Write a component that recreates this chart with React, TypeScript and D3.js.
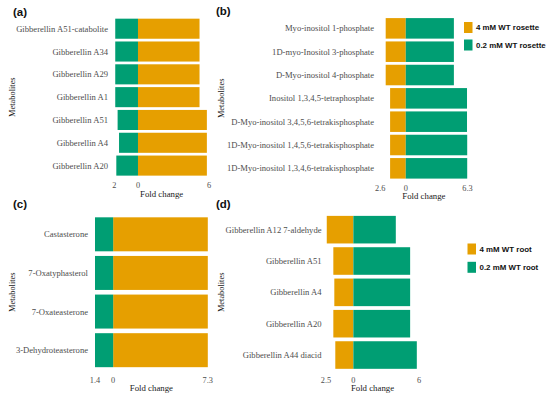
import * as d3 from "d3";
import { useEffect, useRef } from "react";

const ORANGE = "#E69F00";
const GREEN = "#009E73";

// (a) rosette gibberellins: orange = 4 mM (up), green = 0.2 mM (down)
const aNames = ["Gibberellin A51-catabolite", "Gibberellin A34", "Gibberellin A29", "Gibberellin A1", "Gibberellin A51", "Gibberellin A4", "Gibberellin A20"];
const aOrange = [5.2, 5.2, 5.2, 5.2, 5.82, 5.82, 5.82];
const aGreen = [-1.92, -1.92, -1.92, -1.92, -1.72, -1.6, -1.83];
const aTicks = [-2, 0, 6];

// (b) inositol phosphates: orange = 4 mM (down), green = 0.2 mM (up)
const bNames = ["Myo-inositol 1-phosphate", "1D-myo-Inositol 3-phosphate", "D-Myo-inositol 4-phosphate", "Inositol 1,3,4,5-tetraphosphate", "D-Myo-inositol 3,4,5,6-tetrakisphosphate", "1D-Myo-inositol 1,4,5,6-tetrakisphosphate", "1D-Myo-inositol 1,3,4,6-tetrakisphosphate"];
const bOrange = [-2.05, -2.05, -2.05, -1.6, -1.6, -1.6, -1.6];
const bGreen = [4.91, 4.91, 4.91, 6.25, 6.25, 6.27, 6.27];
const bTicks = [-2.6, 0, 6.3];

// (c) brassinosteroids
const cNames = ["Castasterone", "7-Oxatyphasterol", "7-Oxateasterone", "3-Dehydroteasterone"];
const cOrange = [7.3, 7.3, 7.3, 7.3];
const cGreen = [-1.4, -1.4, -1.4, -1.4];
const cTicks = [-1.4, 0, 7.3];

// (d) root gibberellins
const dNames = ["Gibberellin A12 7-aldehyde", "Gibberellin A51", "Gibberellin A4", "Gibberellin A20", "Gibberellin A44 diacid"];
const dOrange = [-2.43, -1.83, -1.74, -1.83, -1.65];
const dGreen = [3.88, 5.19, 5.19, 5.19, 5.8];
const dTicks = [-2.5, 0, 6];

const rosetteLegend = ["4 mM WT rosette", "0.2 mM WT rosette"];
const rootLegend = ["4 mM WT root", "0.2 mM WT root"];

type PanelCfg = {
  tag: string;
  names: string[];
  orange: number[];
  green: number[];
  ticks: number[];
  xr: [number, number];
  yr: [number, number];
  labelX: number;
  tagX: number;
  tagY: number;
  titleX: number;
  tickOff: number;
  legend?: string[];
  legendX?: number;
  legendY?: number;
  legendGap?: number;
};

const panels: PanelCfg[] = [
  { tag: "(a)", names: aNames, orange: aOrange, green: aGreen, ticks: aTicks, xr: [114.3, 209], yr: [17.3, 177], labelX: 108, tagX: 13, tagY: 16, titleX: 11.5, tickOff: 11 },
  { tag: "(b)", names: bNames, orange: bOrange, green: bGreen, ticks: bTicks, xr: [380.3, 467.5], yr: [16.7, 180], labelX: 374, tagX: 216, tagY: 15, titleX: 221, tickOff: 10.5, legend: rosetteLegend, legendX: 464, legendY: 22, legendGap: 17.5 },
  { tag: "(c)", names: cNames, orange: cOrange, green: cGreen, ticks: cTicks, xr: [95, 207.8], yr: [215, 369.5], labelX: 88, tagX: 13, tagY: 208, titleX: 11.5, tickOff: 13 },
  { tag: "(d)", names: dNames, orange: dOrange, green: dGreen, ticks: dTicks, xr: [326, 419], yr: [214, 370.7], labelX: 321.5, tagX: 216, tagY: 208, titleX: 221, tickOff: 12, legend: rootLegend, legendX: 467.5, legendY: 243.5, legendGap: 18.3 },
];

export default function App() {
  const ref = useRef<SVGSVGElement>(null);

  useEffect(() => {
    const svg = d3.select(ref.current);
    svg.selectAll("*").remove();

    panels.forEach(p => {
      const g = svg.append("g");
      const x = d3.scaleLinear().domain([p.ticks[0], p.ticks[2]]).range(p.xr);
      const y = d3.scaleBand<string>().domain(p.names).range(p.yr).paddingInner(0.12).paddingOuter(0.06);

      const rows = p.names.map((n, i) => ({ n, o: p.orange[i], g: p.green[i] }));

      const bar = (val: (d: any) => number, color: string) =>
        g.selectAll(null)
          .data(rows)
          .enter()
          .append("rect")
          .attr("x", d => x(Math.min(0, val(d))))
          .attr("y", d => y(d.n)!)
          .attr("width", d => Math.abs(x(val(d)) - x(0)))
          .attr("height", y.bandwidth())
          .attr("fill", color);

      bar(d => d.o, ORANGE);
      bar(d => d.g, GREEN);

      g.selectAll(null)
        .data(rows)
        .enter()
        .append("text")
        .attr("x", p.labelX)
        .attr("y", d => y(d.n)! + y.bandwidth() / 2)
        .attr("dy", "0.35em")
        .attr("text-anchor", "end")
        .attr("font-family", "Liberation Serif")
        .attr("font-size", 8.6)
        .attr("fill", "#4d4d4d")
        .text(d => d.n);

      const tickY = p.yr[1] + p.tickOff;
      g.selectAll(null)
        .data(p.ticks)
        .enter()
        .append("text")
        .attr("x", d => x(d))
        .attr("y", tickY)
        .attr("text-anchor", "middle")
        .attr("font-family", "Liberation Serif")
        .attr("font-size", 8.3)
        .attr("fill", "#4d4d4d")
        .text(d => String(Math.abs(d)));

      g.append("text")
        .attr("x", (p.xr[0] + p.xr[1]) / 2)
        .attr("y", tickY + 8.5)
        .attr("text-anchor", "middle")
        .attr("font-family", "Liberation Serif")
        .attr("font-size", 8.8)
        .attr("fill", "#1a1a1a")
        .text("Fold change");

      const cy = (p.yr[0] + p.yr[1]) / 2;
      g.append("text")
        .attr("transform", `translate(${p.titleX + 3},${cy}) rotate(-90)`)
        .attr("text-anchor", "middle")
        .attr("font-family", "Liberation Serif")
        .attr("font-size", 8.4)
        .attr("fill", "#1a1a1a")
        .text("Metabolites");

      g.append("text")
        .attr("x", p.tagX)
        .attr("y", p.tagY)
        .attr("font-family", "Liberation Sans")
        .attr("font-weight", "bold")
        .attr("font-size", 11.5)
        .attr("fill", "#111")
        .text(p.tag);

      if (p.legend) {
        const lg = g.selectAll(null)
          .data(p.legend)
          .enter()
          .append("g")
          .attr("transform", (d, i) => `translate(${p.legendX},${p.legendY! + i * p.legendGap!})`);
        lg.append("rect")
          .attr("width", 8.5)
          .attr("height", 11)
          .attr("fill", (d, i) => (i === 0 ? ORANGE : GREEN));
        lg.append("text")
          .attr("x", 12)
          .attr("y", 5.5)
          .attr("dy", "0.35em")
          .attr("font-family", "Liberation Sans")
          .attr("font-weight", "bold")
          .attr("font-size", 7.9)
          .attr("fill", "#111")
          .text(d => d);
      }
    });
  }, []);

  return (
    <svg ref={ref} width={550} height={397} style={{ position: "absolute", left: 0, top: 0, background: "#fff" }}></svg>
  );
}
